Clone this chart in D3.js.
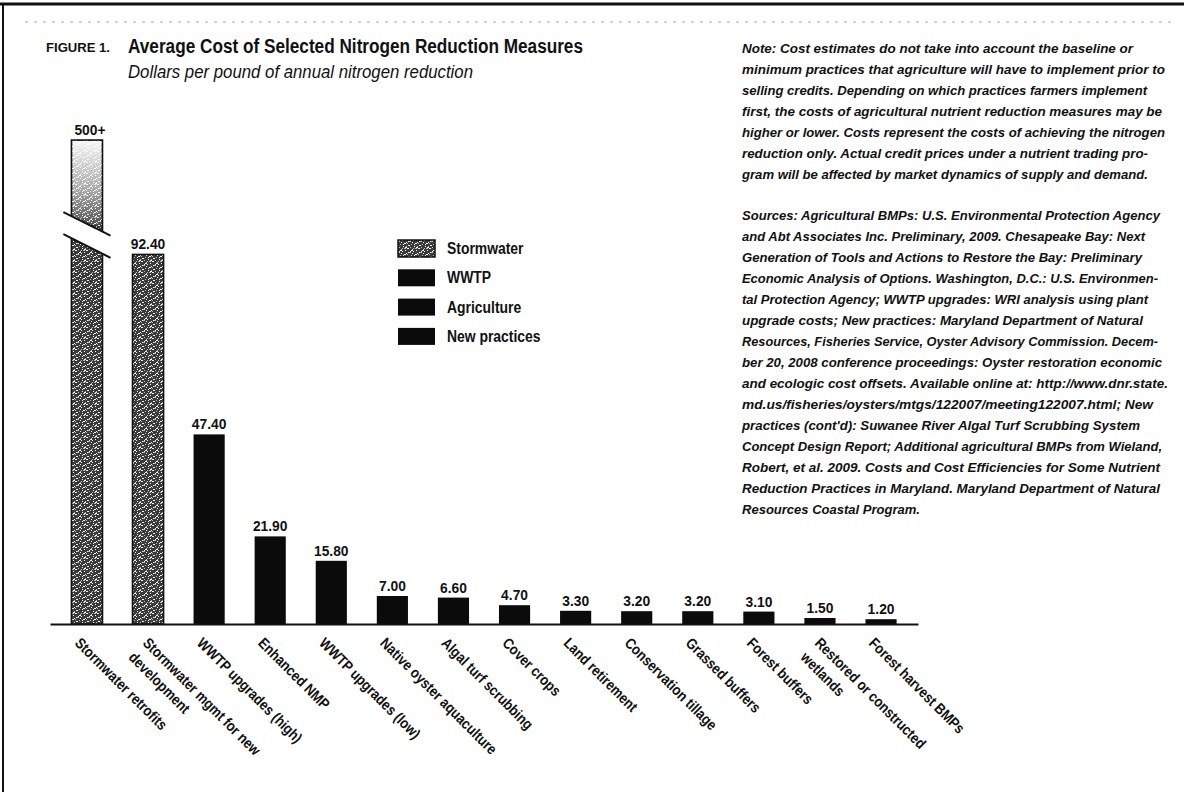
<!DOCTYPE html>
<html lang="en">
<head>
  <meta charset="UTF-8">
  <title>Average Cost of Selected Nitrogen Reduction Measures</title>
  <script src="https://d3js.org/d3.v7.min.js"></script>
  <style>
    body { margin: 0; background: #fff; }
    svg text { font-family: 'Liberation Sans', Arial, sans-serif; fill: #111; }
    .b { font-weight: bold; }
    .note { font-style: italic; font-weight: bold; }
  </style>
</head>
<body>
  <div id="viz"></div>
  <script>
    // Chart data
    const categories = [
      "Stormwater retrofits",
      "Stormwater mgmt for new|development",
      "WWTP upgrades (high)",
      "Enhanced NMP",
      "WWTP upgrades (low)",
      "Native oyster aquaculture",
      "Algal turf scrubbing",
      "Cover crops",
      "Land retirement",
      "Conservation tillage",
      "Grassed buffers",
      "Forest buffers",
      "Restored or constructed|wetlands",
      "Forest harvest BMPs"
    ];
    const values = [500, 92.4, 47.4, 21.9, 15.8, 7.0, 6.6, 4.7, 3.3, 3.2, 3.2, 3.1, 1.5, 1.2];
    const valueLabels = ["500+", "92.40", "47.40", "21.90", "15.80", "7.00", "6.60", "4.70", "3.30", "3.20", "3.20", "3.10", "1.50", "1.20"];
    const groups = ["Stormwater", "Stormwater", "WWTP", "Agriculture", "WWTP", "New practices", "New practices",
                    "Agriculture", "Agriculture", "Agriculture", "Agriculture", "Agriculture", "Agriculture", "Agriculture"];
    const legendItems = ["Stormwater", "WWTP", "Agriculture", "New practices"];

    const noteLines = [
      "Note: Cost estimates do not take into account the baseline or",
      "minimum practices that agriculture will have to implement prior to",
      "selling credits. Depending on which practices farmers implement",
      "first, the costs of agricultural nutrient reduction measures may be",
      "higher or lower. Costs represent the costs of achieving the nitrogen",
      "reduction only. Actual credit prices under a nutrient trading pro-",
      "gram will be affected by market dynamics of supply and demand."
    ];
    const noteEnds = [1133, 1165, 1147, 1162, 1165, 1148, 1148];
    const sourceLines = [
      "Sources: Agricultural BMPs: U.S. Environmental Protection Agency",
      "and Abt Associates Inc. Preliminary, 2009. Chesapeake Bay: Next",
      "Generation of Tools and Actions to Restore the Bay: Preliminary",
      "Economic Analysis of Options. Washington, D.C.: U.S. Environmen-",
      "tal Protection Agency; WWTP upgrades: WRI analysis using plant",
      "upgrade costs; New practices: Maryland Department of Natural",
      "Resources, Fisheries Service, Oyster Advisory Commission. Decem-",
      "ber 20, 2008 conference proceedings: Oyster restoration economic",
      "and ecologic cost offsets. Available online at: http://www.dnr.state.",
      "md.us/fisheries/oysters/mtgs/122007/meeting122007.html; New",
      "practices (cont'd): Suwanee River Algal Turf Scrubbing System",
      "Concept Design Report; Additional agricultural BMPs from Wieland,",
      "Robert, et al. 2009. Costs and Cost Efficiencies for Some Nutrient",
      "Reduction Practices in Maryland. Maryland Department of Natural",
      "Resources Coastal Program."
    ];
    const sourceEnds = [1160, 1145, 1142, 1158, 1148, 1143, 1158, 1162, 1168, 1153, 1140, 1162, 1160, 1160, 920];

    const width = 1184, height = 792;
    const baseY = 624;

    const svg = d3.select('#viz').append('svg')
      .attr('width', width)
      .attr('height', height);

    // speckled texture for the stormwater bars (fixed dot layout)
    const defs = svg.append('defs');
    const pat = defs.append('pattern')
      .attr('id', 'stipple')
      .attr('patternUnits', 'userSpaceOnUse')
      .attr('width', 11).attr('height', 11);
    pat.append('rect').attr('width', 11).attr('height', 11).attr('fill', '#3a3a3a');
    const dots = [[0,1],[4,0],[8,2],[2,4],[6,3],[10,5],[1,7],[5,6],[9,8],[3,9],[7,10],[0,5],
                  [6,8],[10,1],[3,2],[8,6],[2,10],[5,4],[9,3],[1,0],[7,7],[4,8]];
    dots.forEach(([px, py], i) => {
      pat.append('rect').attr('x', px).attr('y', py)
        .attr('width', i % 4 === 0 ? 2 : 1).attr('height', 1)
        .attr('fill', i % 3 === 0 ? '#bbb' : '#f2f2f2');
    });
    const fade = defs.append('linearGradient')
      .attr('id', 'fade').attr('x1', 0).attr('y1', 0).attr('x2', 0).attr('y2', 1);
    fade.append('stop').attr('offset', '0%').attr('stop-color', '#fff').attr('stop-opacity', 0.95);
    fade.append('stop').attr('offset', '60%').attr('stop-color', '#fff').attr('stop-opacity', 0.55);
    fade.append('stop').attr('offset', '100%').attr('stop-color', '#fff').attr('stop-opacity', 0.12);

    const fillFor = g => g === 'Stormwater' ? 'url(#stipple)' : '#0b0b0b';

    // frame
    svg.append('line').attr('x1', 0).attr('x2', width).attr('y1', 4).attr('y2', 4)
      .attr('stroke', '#111').attr('stroke-width', 3);
    svg.append('line').attr('x1', 3).attr('x2', 3).attr('y1', 4).attr('y2', height)
      .attr('stroke', '#111').attr('stroke-width', 2);
    svg.append('line').attr('x1', 25).attr('x2', 1175).attr('y1', 22).attr('y2', 22)
      .attr('stroke', '#aaa').attr('stroke-width', 1).attr('stroke-dasharray', '3 6');

    // title
    svg.append('text').attr('x', 46).attr('y', 52).attr('class', 'b')
      .style('font-size', '12.5px').attr('textLength', 64).attr('lengthAdjust', 'spacingAndGlyphs')
      .text('FIGURE 1.');
    svg.append('text').attr('x', 128).attr('y', 53).attr('class', 'b')
      .style('font-size', '20px').attr('textLength', 455).attr('lengthAdjust', 'spacingAndGlyphs')
      .text('Average Cost of Selected Nitrogen Reduction Measures');
    svg.append('text').attr('x', 128).attr('y', 78)
      .style('font-size', '18px').style('font-style', 'italic')
      .attr('textLength', 345).attr('lengthAdjust', 'spacingAndGlyphs')
      .text('Dollars per pound of annual nitrogen reduction');

    // notes and sources: one shared font size that fits every line, then stretch each to its width
    const noteX = 742;
    const noteG = svg.append('g').selectAll('text')
      .data(noteLines.map((t, i) => ({ t, y: 53 + i * 21, end: noteEnds[i] }))
        .concat(sourceLines.map((t, i) => ({ t, y: 220 + i * 21, end: sourceEnds[i] }))))
      .join('text')
      .attr('class', 'note').attr('x', noteX).attr('y', d => d.y)
      .style('font-size', '14px')
      .text(d => d.t);
    let ratio = 1;
    noteG.each(function (d) {
      ratio = Math.min(ratio, (d.end - noteX) / this.getComputedTextLength());
    });
    noteG.style('font-size', (14 * ratio).toFixed(2) + 'px')
      .attr('textLength', d => d.end - noteX).attr('lengthAdjust', 'spacingAndGlyphs');

    // scales
    const x = d3.scaleBand().domain(categories).range([50, 918]).paddingInner(0.49).paddingOuter(0.35);
    const y = d3.scaleLinear().domain([0, 100, 500]).range([baseY, 224, 140]);

    const data = categories.map((c, i) => ({ cat: c, value: values[i], label: valueLabels[i], group: groups[i] }));

    // bars
    svg.append('g').selectAll('rect').data(data).join('rect')
      .attr('x', d => x(d.cat))
      .attr('y', d => y(d.value))
      .attr('width', x.bandwidth())
      .attr('height', d => baseY - y(d.value))
      .attr('fill', d => fillFor(d.group))
      .attr('stroke', '#111')
      .attr('stroke-width', d => d.group === 'Stormwater' ? 1.5 : 0);

    // broken first bar: faded top segment + gap
    const b = data[0];
    const bx0 = x(b.cat), bx1 = x(b.cat) + x.bandwidth(), bc = (bx0 + bx1) / 2;
    const slope = 0.5;
    const upY = y(100.3), loY = y(94.5);
    svg.append('rect').attr('x', bx0 + 1).attr('y', y(b.value) + 1)
      .attr('width', x.bandwidth() - 2).attr('height', upY - y(b.value))
      .attr('fill', 'url(#fade)');
    const ys = (cy, xx) => cy + slope * (xx - bc);
    svg.append('polygon')
      .attr('points', [[bx0 - 2, ys(upY, bx0 - 2)], [bx1 + 2, ys(upY, bx1 + 2)], [bx1 + 2, ys(loY, bx1 + 2)], [bx0 - 2, ys(loY, bx0 - 2)]]
        .map(p => p.join(',')).join(' '))
      .attr('fill', '#fff');
    [upY, loY].forEach(cy => {
      svg.append('line')
        .attr('x1', bx0 - 8).attr('y1', ys(cy, bx0 - 8))
        .attr('x2', bx1 + 8).attr('y2', ys(cy, bx1 + 8))
        .attr('stroke', '#111').attr('stroke-width', 2);
    });

    // value labels
    svg.append('g').selectAll('text').data(data).join('text')
      .attr('class', 'b')
      .attr('transform', d => `translate(${x(d.cat) + x.bandwidth() / 2 + (d.label === '500+' ? 3 : 0)},${y(d.value) - 5}) scale(0.92,1)`)
      .attr('text-anchor', 'middle')
      .style('font-size', '15px')
      .text(d => d.label);

    // x axis line
    const xAxis = d3.axisBottom(x).tickSize(0).tickFormat('');
    const axisG = svg.append('g').attr('transform', `translate(0,${baseY})`).call(xAxis);
    axisG.select('.domain').attr('stroke', '#111').attr('stroke-width', 2);

    // rotated category labels
    const lab = svg.append('g').selectAll('text').data(data).join('text')
      .attr('class', 'b')
      .style('font-size', '15px')
      .attr('transform', d => {
        const cx = x(d.cat) + x.bandwidth() / 2;
        const two = d.cat.includes('|');
        return `translate(${cx + (two ? -6 : -13)},${baseY + 20}) rotate(45) scale(0.86,1)`;
      });
    lab.each(function (d) {
      const parts = d.cat.split('|');
      d3.select(this).selectAll('tspan').data(parts).join('tspan')
        .attr('x', 0).attr('dy', (p, i) => i === 0 ? 0 : '1.35em').text(p => p);
    });

    // legend
    const leg = svg.append('g').attr('transform', 'translate(398,240)');
    legendItems.forEach((name, i) => {
      const g = leg.append('g').attr('transform', `translate(0,${i * 29.3})`);
      g.append('rect').attr('width', 37).attr('height', 17)
        .attr('fill', fillFor(name)).attr('stroke', '#111').attr('stroke-width', name === 'Stormwater' ? 1.5 : 0);
      g.append('text').attr('class', 'b')
        .attr('transform', 'translate(49,14) scale(0.87,1)')
        .style('font-size', '16px').text(name);
    });
  </script>
</body>
</html>
